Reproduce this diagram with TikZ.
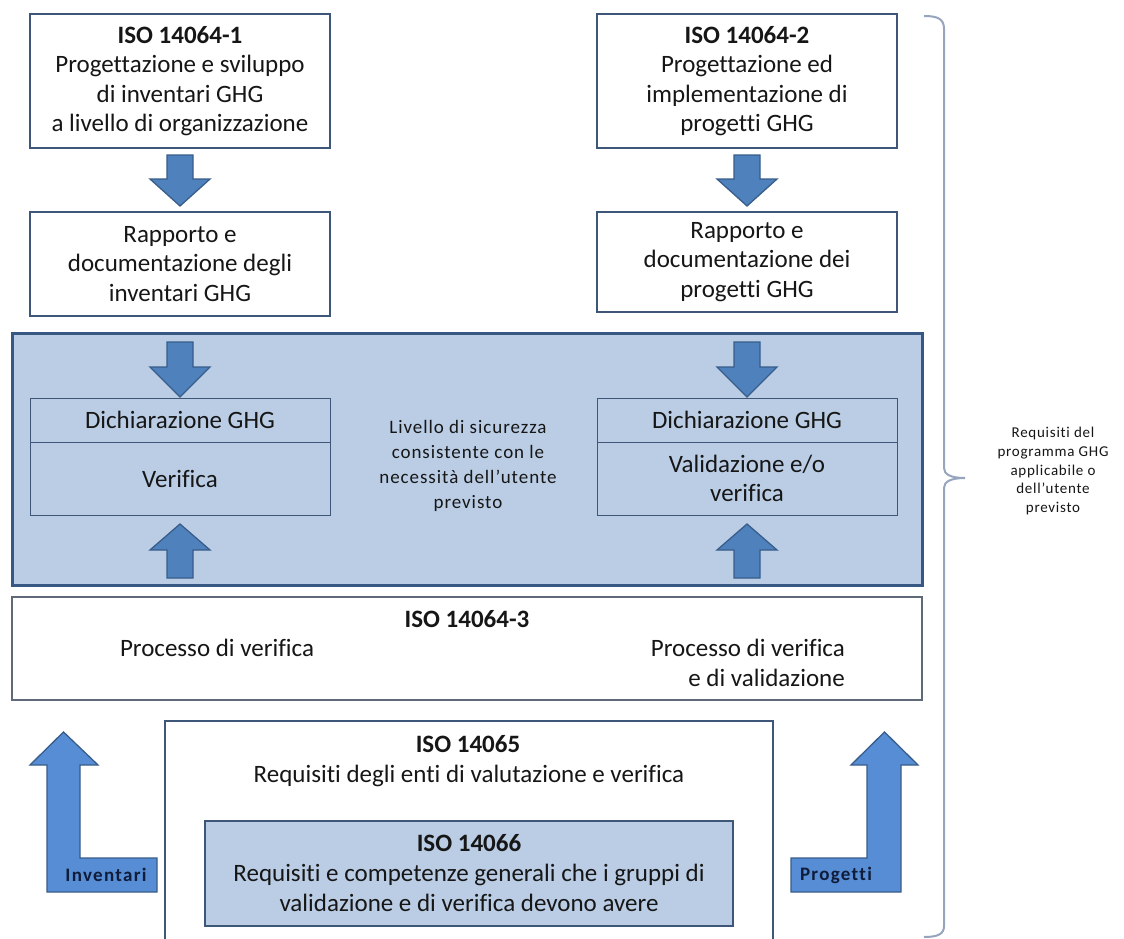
\documentclass[tikz,border=0pt]{standalone}
\usepackage{fontspec}
\setmainfont{Carlito}[Ligatures=NoCommon]
\newfontfamily\spaced{Carlito}[LetterSpace=5,Ligatures=NoCommon]
\newfontfamily\spacedb{Carlito}[LetterSpace=7,Ligatures=NoCommon]
\usetikzlibrary{calc}
\definecolor{txt}{RGB}{22,22,22}
\definecolor{boxline}{RGB}{62,86,120}
\definecolor{panelfill}{RGB}{186,205,229}
\definecolor{panelline}{RGB}{55,88,130}
\definecolor{arrfill}{RGB}{79,129,189}
\definecolor{arrline}{RGB}{56,93,138}
\definecolor{lfill}{RGB}{86,141,212}
\definecolor{bracecol}{RGB}{150,164,190}
\definecolor{graybox}{RGB}{95,105,120}
\definecolor{navy}{RGB}{15,28,58}
\newcommand\dnarr[4]{\path[blk] ({#1-13},#2) -- ({#1+13},#2) -- ({#1+13},#3) -- ({#1+30},#3) -- (#1,#4) -- ({#1-30},#3) -- ({#1-13},#3) -- cycle;}
\begin{document}
\begin{tikzpicture}[x=1pt,y=-1pt,
  every node/.style={text=txt, inner sep=0pt},
  big/.style={font=\fontsize{25}{29.5}\selectfont},
  box/.style={big, draw=boxline, line width=1.2pt, fill=white, align=center},
  inbox/.style={big, draw=boxline, line width=1pt, align=center},
  panel/.style={draw=panelline, line width=3pt, fill=panelfill},
  blk/.style={fill=arrfill, draw=arrline, line width=1.3pt, line join=miter},
  lblk/.style={fill=lfill, draw=arrline, line width=1.3pt, line join=miter},
  small/.style={font=\spaced\fontsize{19}{25}\selectfont, align=center},
  tiny/.style={font=\spaced\fontsize{15}{18.7}\selectfont, align=center},
  lab/.style={font=\spacedb\bfseries\fontsize{19}{20}\selectfont, text=navy},
  brace/.style={draw=bracecol, line width=2pt}]
\clip (0,0) rectangle (1124,939);
\fill[white] (0,0) rectangle (1124,939);

% top boxes
\node[box, minimum width=300, minimum height=134] (iso1) at (180,81)
  {\textbf{ISO 14064-1}\\Progettazione e sviluppo\\di inventari GHG\\a livello di organizzazione};
\node[box, minimum width=300, minimum height=134] (iso2) at (747,81)
  {\textbf{ISO 14064-2}\\Progettazione ed\\implementazione di\\progetti GHG};
\node[box, minimum width=300, minimum height=104] (rap1) at (180,264)
  {Rapporto e\\documentazione degli\\inventari GHG};
\node[box, minimum width=300, minimum height=100] (rap2) at (747,262)
  {Rapporto e\\documentazione dei\\progetti GHG};

\dnarr{180}{155}{179}{206}
\dnarr{747}{155}{179}{206}

% panel
\node[panel, minimum width=910, minimum height=252] (panel) at (467,459) {};
\node[inbox, minimum width=300, minimum height=44] (decl1) at (180,420) {Dichiarazione GHG};
\node[inbox, minimum width=300, minimum height=73] (ver1) at (180,478.5) {Verifica};
\node[inbox, minimum width=300, minimum height=44] (decl2) at (747,420) {Dichiarazione GHG};
\node[inbox, minimum width=300, minimum height=73] (ver2) at (747,478.5) {Validazione e/o\\verifica};
\node[small] (liv) at (468,466) {Livello di sicurezza\\consistente con le\\necessità dell’utente\\previsto};

\dnarr{180}{342}{367}{397}
\dnarr{747}{342}{367}{397}
\dnarr{180}{578}{550}{524}
\dnarr{747}{578}{550}{524}

% ISO 14064-3
\node[box, draw=graybox, minimum width=910, minimum height=103] (iso3) at (467,648.5) {};
\node[big] (iso3t) at (467,619) {\textbf{ISO 14064-3}};
\node[big] (pv1) at (217,648) {Processo di verifica};
\node[big, align=right, anchor=east] (pv2) at (845,663) {Processo di verifica\\e di validazione};

% ISO 14065 / 14066
\node[box, minimum width=608, minimum height=224] (iso65) at (469,833) {};
\node[big] (iso65t) at (468,744) {\textbf{ISO 14065}};
\node[big] (iso65d) at (469,776) {Requisiti degli enti di valutazione e verifica};
\node[box, fill=panelfill, minimum width=528, minimum height=105, font=\fontsize{25}{30}\selectfont] (iso66) at (469,873.5)
  {\textbf{ISO 14066}\\Requisiti e competenze generali che i gruppi di\\validazione e di verifica devono avere};

% L arrows
\path[lblk] (47,892) -- (47,765) -- (30,765) -- (63.5,732) -- (98,765) -- (80,765) -- (80,858) -- (157,858) -- (157,892) -- cycle;
\node[lab] (inv) at (106,875) {Inventari};
\path[lblk] (901,892) -- (901,765) -- (918,765) -- (884.5,732) -- (851,765) -- (867,765) -- (867,858) -- (791,858) -- (791,892) -- cycle;
\node[lab] (prog) at (836,875) {Progetti};

% brace
\draw[brace] (924,16) .. controls (938,16) and (944,19) .. (944,29) -- (944,468)
  .. controls (944,474) and (950,478) .. (965,478)
  .. controls (950,478) and (944,482) .. (944,488) -- (944,926)
  .. controls (944,934) and (938,937) .. (924,937);
\node[tiny] (req) at (1053,471) {Requisiti del\\programma GHG\\applicabile o\\dell’utente\\previsto};
\end{tikzpicture}
\end{document}
